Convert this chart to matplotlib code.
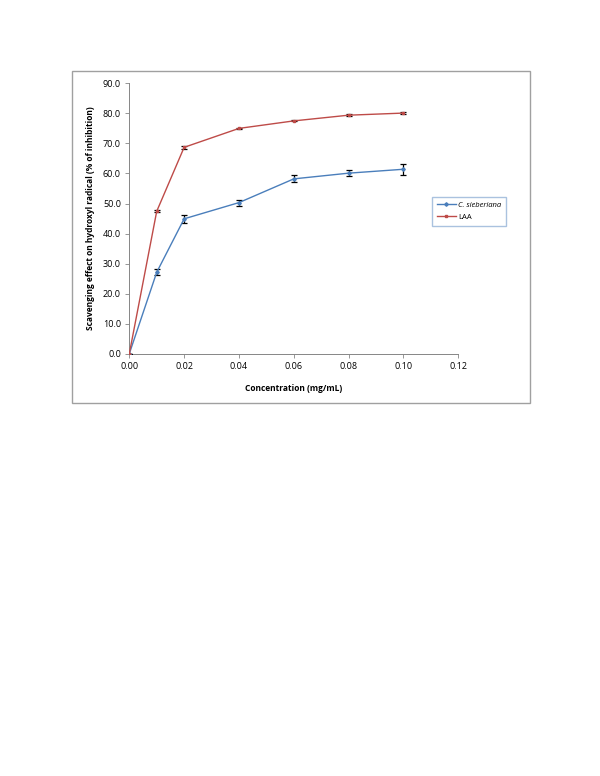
import matplotlib.pyplot as plt
from matplotlib.patches import Rectangle

conc = [0.00, 0.01, 0.02, 0.04, 0.06, 0.08, 0.10]
sieberiana = [0.0, 27.1, 44.9, 50.3, 58.2, 60.1, 61.4]
sieberiana_err = [0.0, 1.0, 1.4, 1.0, 1.2, 1.1, 1.9]
laa = [0.0, 47.4, 68.7, 75.0, 77.5, 79.4, 80.1]
laa_err = [0.0, 0.3, 0.6, 0.3, 0.2, 0.3, 0.4]

xticks = [0.00, 0.02, 0.04, 0.06, 0.08, 0.10, 0.12]
yticks = [0, 10, 20, 30, 40, 50, 60, 70, 80, 90]

BLUE = "#4A7EBB"
RED = "#BE4B48"
GRID = "#868686"

plt.rcParams["font.family"] = ["Open Sans", "DejaVu Sans"]

fig = plt.figure(figsize=(6.0, 7.76), dpi=100)
fig.patches.append(Rectangle((0.12, 0.4807), 0.7633, 0.4278, transform=fig.transFigure,
                             fill=False, edgecolor="#A0A0A0", linewidth=1.0))

ax = fig.add_axes([0.2155, 0.5442, 0.5483, 0.3484])
ax.errorbar(conc, sieberiana, yerr=sieberiana_err, color=BLUE, linewidth=1.0,
            marker="D", markersize=1.8, ecolor="black", elinewidth=0.9, capsize=2,
            capthick=0.9, label="C. sieberiana", zorder=3)
ax.errorbar(conc, laa, yerr=laa_err, color=RED, linewidth=1.0,
            marker="s", markersize=2, ecolor="black", elinewidth=0.9, capsize=2,
            capthick=0.9, label="LAA", zorder=3)

ax.set_xlim(0, 0.12)
ax.set_ylim(0, 90)
ax.set_xticks(xticks)
ax.set_xticklabels([f"{t:.2f}" for t in xticks])
ax.set_yticks(yticks)
ax.set_yticklabels([f"{t:.1f}" for t in yticks])
ax.tick_params(labelsize=6.5, color=GRID, length=3, width=0.6, direction="out", pad=3)
for side in ["top", "right"]:
    ax.spines[side].set_visible(False)
for side in ["left", "bottom"]:
    ax.spines[side].set_color(GRID)
    ax.spines[side].set_linewidth(0.7)
ax.set_xlabel("Concentration (mg/mL)", fontsize=6, fontweight="bold", labelpad=9)
ax.set_ylabel("Scavenging effect on hydroxyl radical (% of inhibition)", fontsize=6,
              fontweight="bold", labelpad=6)

handles, labels = ax.get_legend_handles_labels()
handles = [h[0] for h in handles]
leg = ax.legend(handles, labels, loc="upper left", bbox_to_anchor=(0.92, 0.58),
                fontsize=5.5, frameon=True, fancybox=False, handlelength=2.6,
                borderpad=0.6, labelspacing=0.65, handletextpad=0.2, borderaxespad=0)
leg.get_frame().set_edgecolor("#95B3D7")
leg.get_frame().set_linewidth(1.0)
leg.get_texts()[0].set_fontstyle("italic")

fig.savefig("out.png", dpi=100)
